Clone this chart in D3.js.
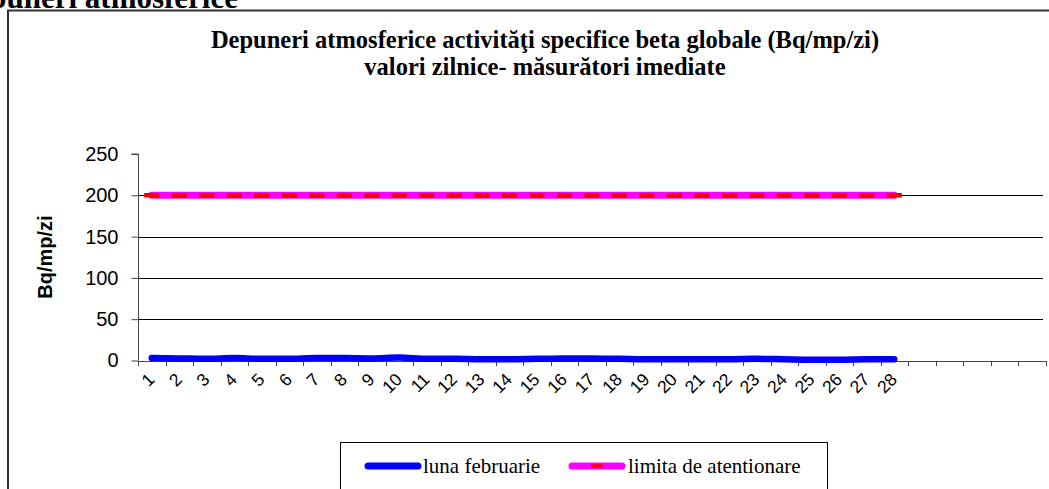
<!DOCTYPE html>
<html>
<head>
<meta charset="utf-8">
<script src="https://cdn.jsdelivr.net/npm/d3@7"></script>
<style>
  html, body { margin: 0; padding: 0; background: #fff; overflow: hidden; }
  svg { display: block; }
  .sans { font-family: "Liberation Sans", Arial, sans-serif; }
  .serif { font-family: "Liberation Serif", "Times New Roman", serif; }
</style>
</head>
<body>
<svg id="chart" width="1049" height="489"></svg>
<script>
// ---- data ----
const categories = d3.range(1, 34);            // 33 category slots on the axis
const dayLabels = d3.range(1, 29).map(String); // labelled days 1..28
const days = d3.range(1, 29);
const februaryValues = [3, 2.5, 2, 3, 2, 2, 3, 3, 2.5, 3.5, 2, 2, 1.5, 1.5, 2, 2.5, 2.5, 2, 1.5, 1.5, 1.5, 1.5, 2, 1.5, 1, 1, 1.5, 1.5];
const limitValues = days.map(() => 200);
const yTicks = [0, 50, 100, 150, 200, 250];
const gridValues = [50, 100, 150, 200];

const pageHeading = "Depuneri atmosferice";
const titleLine1 = "Depuneri atmosferice activităţi specifice beta globale (Bq/mp/zi)";
const titleLine2 = "valori zilnice- măsurători imediate";
const yTitle = "Bq/mp/zi";
const seriesNames = ["luna februarie", "limita de atentionare"];

// ---- layout ----
const svg = d3.select("#chart");
const plotLeft = 138, plotRight = 1045.5, plotTop = 154, plotBottom = 360.5;

const x = d3.scaleBand().domain(categories).range([plotLeft, plotRight]).padding(0);
const xc = d => x(d) + x.bandwidth() / 2;
const y = d3.scaleLinear().domain([0, 250]).range([plotBottom, plotTop]);

// page heading (cut off at top, as in the source page)
svg.append("text")
  .attr("class", "serif")
  .attr("x", 238).attr("y", 8)
  .attr("text-anchor", "end")
  .attr("font-weight", "bold").attr("font-size", 31)
  .text(pageHeading);

// chart border
svg.append("path")
  .attr("d", `M8,495 L8,10.5 L1055,10.5`)
  .attr("fill", "none").attr("stroke", "#333").attr("stroke-width", 2);

// title
const title = svg.append("text")
  .attr("class", "serif")
  .attr("text-anchor", "middle")
  .attr("font-weight", "bold").attr("font-size", 24.5);
title.append("tspan").attr("x", 545).attr("y", 48).text(titleLine1);
title.append("tspan").attr("x", 545).attr("y", 75).text(titleLine2);

// gridlines
svg.append("g").selectAll("line").data(gridValues).join("line")
  .attr("x1", plotLeft).attr("x2", 1043)
  .attr("y1", d => Math.round(y(d)) + 0.5).attr("y2", d => Math.round(y(d)) + 0.5)
  .attr("stroke", "#000").attr("stroke-width", 1);

// y axis
const yAxis = d3.axisLeft(y).tickValues(yTicks).tickSize(7).tickPadding(13);
const gy = svg.append("g").attr("transform", `translate(${plotLeft + 0.5},0)`).call(yAxis);
gy.select(".domain").attr("stroke", "#444").attr("d", `M-7,${y(250)}H0V${plotBottom}`);
gy.selectAll(".tick line").attr("stroke", "#444");
gy.selectAll(".tick text")
  .attr("class", "sans")
  .attr("font-size", 20).attr("fill", "#000");

// x axis
const xAxis = d3.axisBottom(x).tickValues([]).tickSizeOuter(0);
const gx = svg.append("g").attr("transform", `translate(0,${plotBottom + 0.5})`).call(xAxis);
gx.select(".domain").attr("stroke", "#444");
gx.append("g").selectAll("line").data(categories.concat([34])).join("line")
  .attr("x1", d => Math.round(plotLeft + (d - 1) * x.bandwidth()) + 0.5)
  .attr("x2", d => Math.round(plotLeft + (d - 1) * x.bandwidth()) + 0.5)
  .attr("y1", 0).attr("y2", 5)
  .attr("stroke", "#444");

// x tick labels
svg.append("g").selectAll("text").data(dayLabels).join("text")
  .attr("class", "sans")
  .attr("transform", (d, i) => `translate(${xc(days[i]) + 4},${plotBottom + 20}) rotate(-45)`)
  .attr("text-anchor", "end")
  .attr("font-size", 17.5).attr("fill", "#000")
  .text(d => d);

// limit series (magenta with red dashes)
const line = d3.line().x((d, i) => xc(days[i])).y(d => y(d));
svg.append("path").datum(limitValues)
  .attr("d", line)
  .attr("fill", "none").attr("stroke", "#ff00ff").attr("stroke-width", 7)
  .attr("stroke-linecap", "round");

const half = 7.5;
const redPts = [[xc(days[0]) - half, y(limitValues[0])], [xc(days[days.length - 1]) + half, y(limitValues[limitValues.length - 1])]];
const redLine = d3.line();
svg.append("path").attr("d", redLine(redPts))
  .attr("fill", "none").attr("stroke", "#d40000").attr("stroke-width", 4.5)
  .attr("stroke-dasharray", `15,${x.bandwidth() - 15}`);
svg.append("path").attr("d", redLine(redPts))
  .attr("fill", "none").attr("stroke", "#ff0000").attr("stroke-width", 2.5)
  .attr("stroke-dasharray", `15,${x.bandwidth() - 15}`);

// february series
svg.append("path").datum(februaryValues)
  .attr("d", line.curve(d3.curveMonotoneX))
  .attr("fill", "none").attr("stroke", "#0000ff").attr("stroke-width", 6.5)
  .attr("stroke-linecap", "round").attr("stroke-linejoin", "round");

// y title
svg.append("text")
  .attr("class", "sans")
  .attr("transform", `translate(52,257) rotate(-90)`)
  .attr("text-anchor", "middle")
  .attr("font-weight", "bold").attr("font-size", 20)
  .text(yTitle);

// legend
const lg = svg.append("g");
lg.append("rect").attr("x", 340.5).attr("y", 442.5).attr("width", 487).attr("height", 60)
  .attr("fill", "#fff").attr("stroke", "#000").attr("stroke-width", 1);
const ly = 466;
lg.append("line").attr("x1", 368).attr("x2", 418).attr("y1", ly).attr("y2", ly)
  .attr("stroke", "#0000ff").attr("stroke-width", 7).attr("stroke-linecap", "round");
lg.append("text").attr("class", "serif").attr("x", 423).attr("y", 473)
  .attr("font-size", 21)
  .text(seriesNames[0]);
lg.append("line").attr("x1", 572).attr("x2", 622).attr("y1", ly).attr("y2", ly)
  .attr("stroke", "#ff00ff").attr("stroke-width", 7).attr("stroke-linecap", "round");
lg.append("line").attr("x1", 591).attr("x2", 603).attr("y1", ly).attr("y2", ly)
  .attr("stroke", "#ff0000").attr("stroke-width", 3.5);
lg.append("text").attr("class", "serif").attr("x", 628).attr("y", 473)
  .attr("font-size", 21)
  .text(seriesNames[1]);
</script>
</body>
</html>
